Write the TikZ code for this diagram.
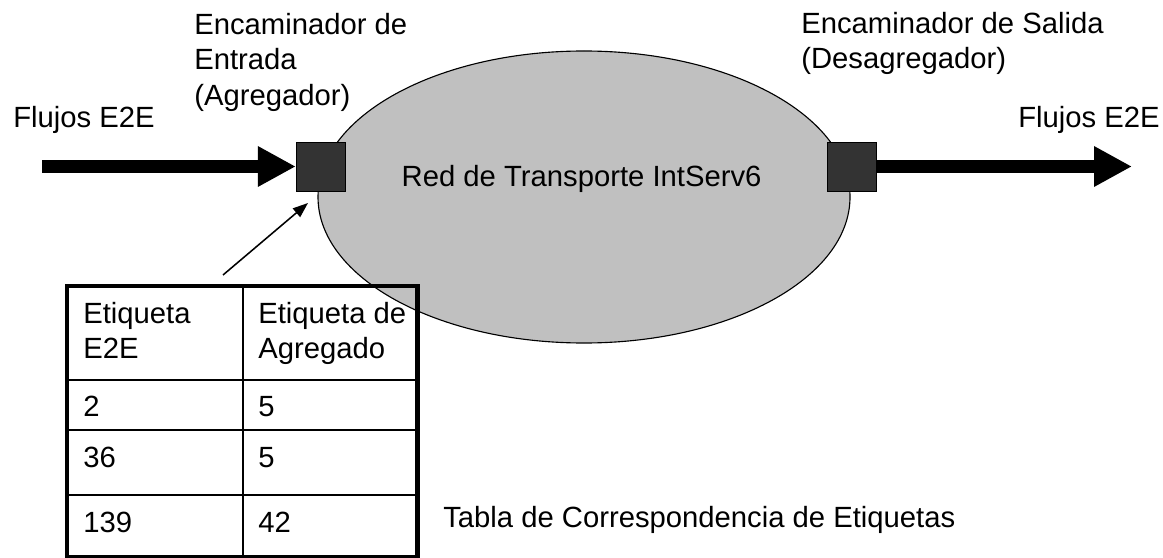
\documentclass[tikz,border=0pt]{standalone}
\usepackage{fontspec}
\setmainfont{Liberation Sans}
\usetikzlibrary{arrows.meta}
\definecolor{netgray}{HTML}{C0C0C0}
\definecolor{boxgray}{HTML}{333333}
\tikzset{
  router/.style={draw=black, fill=boxgray, minimum size=1.22cm, inner sep=0pt},
  flow/.style={line width=8.9pt, -{Triangle[length=0.95cm,width=0.95cm]}},
  lbl/.style={anchor=base west, inner sep=0pt, align=left},
  cell/.style={anchor=base west, inner sep=0pt, align=left}
}
\begin{document}
\begin{tikzpicture}[font=\fontsize{20.8}{25.3}\selectfont]
	\useasboundingbox (0,0) rectangle (29.075,-13.95);

	% red de transporte
	\filldraw[fill=netgray, draw=black, line width=0.8pt] (14.6,-4.925) ellipse (6.65cm and 3.65cm);
	\node[anchor=base, inner sep=0pt] (red) at (14.54,-4.675) {Red de Transporte IntServ6};

	% encaminadores
	\node[router] (in) at (8.0125,-4.1625) {};
	\node[router] (out) at (21.3,-4.1625) {};
	\coordinate (src) at (1.05,-4.1625);
	\coordinate (dst) at (28.3,-4.1625);
	\draw[flow] (src) -- (in.west);
	\draw[flow] (out.east) -- (dst);

	\node[lbl] (fin) at (0.325,-3.2) {Flujos E2E};
	\node[lbl] (fout) at (25.45,-3.2) {Flujos E2E};
	\node[lbl] (ein) at (4.85,-2.63) {Encaminador de\\Entrada\\(Agregador)};
	\node[lbl] (eout) at (20.025,-1.715) {Encaminador de Salida\\(Desagregador)};

	% tabla
	\coordinate (tail) at (5.575,-6.875);
	\coordinate (tip) at (7.7,-5.075);
	\draw[line width=1.1pt, -{Triangle[length=0.38cm,width=0.28cm]}] (tail) -- (tip);

	\draw[line width=3pt] (1.675,-7.15) rectangle (10.44,-13.925);
	\draw[line width=1.6pt] (6.075,-7.15) -- (6.075,-13.925);
	\foreach \y in {-9.5,-10.75,-12.375}
	  \draw[line width=1.6pt] (1.675,\y) -- (10.44,\y);

	\node[cell] (h1) at (2.075,-8.965) {Etiqueta\\E2E};
	\node[cell] (h2) at (6.45,-8.965) {Etiqueta de\\Agregado};
	\node[cell] (a1) at (2.075,-10.4) {2};
	\node[cell] (b1) at (6.45,-10.4) {5};
	\node[cell] (a2) at (2.075,-11.675) {36};
	\node[cell] (b2) at (6.45,-11.675) {5};
	\node[cell] (a3) at (2.075,-13.3) {139};
	\node[cell] (b3) at (6.45,-13.3) {42};

	\node[lbl] (tabla) at (11.075,-13.175) {Tabla de Correspondencia de Etiquetas};
\end{tikzpicture}
\end{document}
